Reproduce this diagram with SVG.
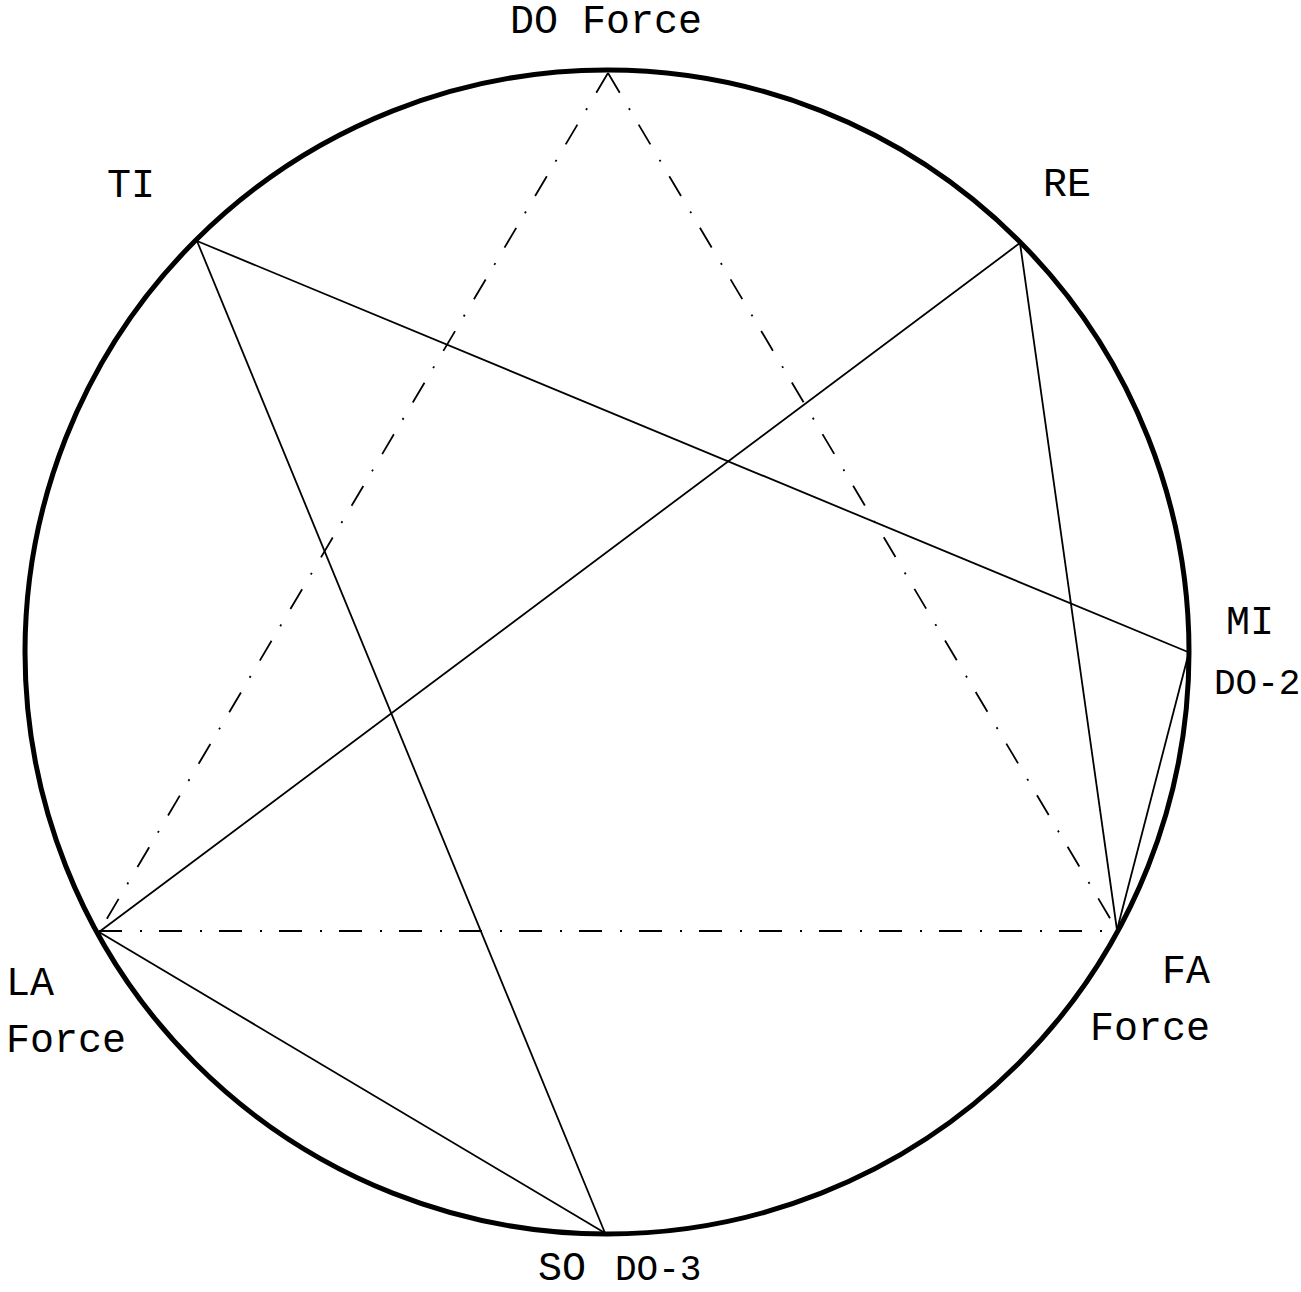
<svg xmlns="http://www.w3.org/2000/svg" width="1301" height="1292" viewBox="0 0 1301 1292">
<style>
text{font-family:"Liberation Mono","Courier New",monospace;font-size:40px;fill:#000}
text.sm{font-size:36px}
.c{fill:none;stroke:#000;stroke-width:5}
.s{stroke:#000;stroke-width:1.8;fill:none}
.d{stroke:#000;stroke-width:1.8;fill:none;stroke-dasharray:23 18 2 17}
</style>
<rect width="1301" height="1292" fill="#fff"/>
<g id="circle"><circle class="c" cx="607" cy="652" r="582"/></g>
<g id="connectors">
<line class="d" x1="608" y1="73" x2="1117" y2="930"/>
<line class="d" x1="608" y1="73" x2="99" y2="932"/>
<line class="d" x1="99" y1="931" x2="1117" y2="931"/>
<line class="s" x1="197" y1="241" x2="1188" y2="652"/>
<line class="s" x1="197" y1="241" x2="605" y2="1233"/>
<line class="s" x1="1020" y1="243" x2="99" y2="932"/>
<line class="s" x1="1020" y1="243" x2="1117" y2="930"/>
<line class="s" x1="99" y1="932" x2="605" y2="1233"/>
<line class="s" x1="1117" y1="930" x2="1188" y2="656"/>
</g>
<g id="node-do"><text x="510" y="33">DO Force</text></g>
<g id="node-re"><text x="1043" y="196">RE</text></g>
<g id="node-mi"><text x="1226" y="634">MI</text><text class="sm" x="1214" y="694">DO-2</text></g>
<g id="node-fa"><text x="1162" y="983">FA</text><text x="1090" y="1040">Force</text></g>
<g id="node-so"><text x="538" y="1280">SO</text><text class="sm" x="615" y="1280">DO-3</text></g>
<g id="node-la"><text x="6" y="995">LA</text><text x="6" y="1052">Force</text></g>
<g id="node-ti"><text x="107" y="197">TI</text></g>
</svg>
